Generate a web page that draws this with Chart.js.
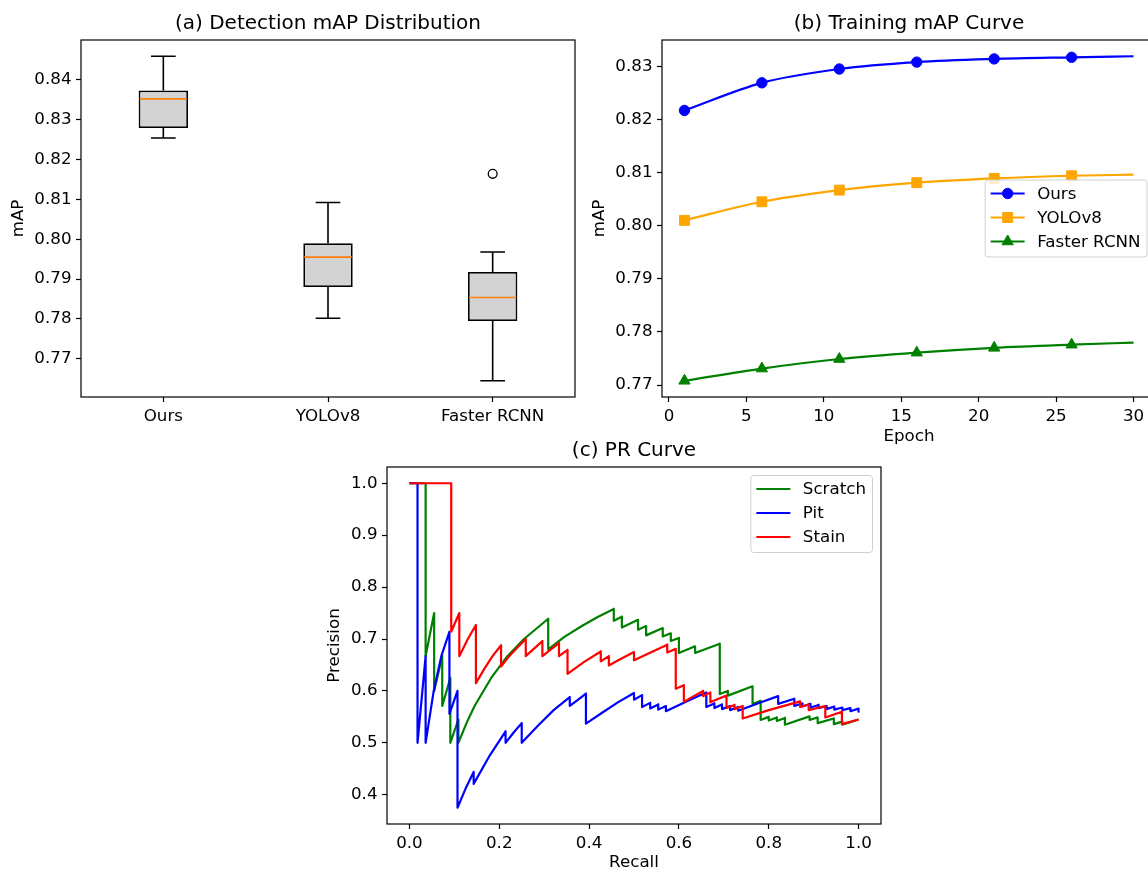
<!DOCTYPE html>
<html>
<head>
<meta charset="utf-8">
<title>Detection results</title>
<script src="https://cdn.jsdelivr.net/npm/chart.js@4.4.1/dist/chart.umd.min.js"></script>
<style>
  html, body { margin: 0; padding: 0; background: #fff; overflow: hidden; }
  body { position: relative; width: 1148px; height: 872px; }
  .panel { position: absolute; }
</style>
</head>
<body>
<div class="panel" style="left:0px; top:0px; width:600px; height:440px;"><canvas id="boxChart"></canvas></div>
<div class="panel" style="left:585px; top:0px; width:595px; height:450px;"><canvas id="trainChart"></canvas></div>
<div class="panel" style="left:320px; top:430px; width:580px; height:450px;"><canvas id="prChart"></canvas></div>
<script>
// (a) box plot summary per model
const boxLabels = ['Ours', 'YOLOv8', 'Faster RCNN'];
const boxLow = [0.8254, 0.7802, 0.7645];
const boxQ1 = [0.8279, 0.7880, 0.7795];
const boxMedian = [0.8352, 0.7955, 0.7854];
const boxQ3 = [0.8373, 0.7990, 0.7918];
const boxHigh = [0.8459, 0.8092, 0.7968];
const boxOutliers = [[], [], [0.8164]];
const boxTicks = [0.77, 0.78, 0.79, 0.80, 0.81, 0.82, 0.83, 0.84];

// (b) training curves
const epochs = [1, 6, 11, 16, 21, 26, 30];
const oursMap = [0.8217, 0.8269, 0.8295, 0.8308, 0.8314, 0.8317, 0.8319];
const yoloMap = [0.8010, 0.8045, 0.8067, 0.8081, 0.8089, 0.8094, 0.8096];
const fasterMap = [0.7708, 0.7731, 0.7749, 0.7761, 0.7770, 0.7776, 0.7780];
const epochTicks = [0, 5, 10, 15, 20, 25, 30];
const trainTicks = [0.77, 0.78, 0.79, 0.80, 0.81, 0.82, 0.83];

// (c) PR curves
const scratchRecall = [0, 0.036, 0.036, 0.055, 0.055, 0.073, 0.073, 0.091, 0.091, 0.109, 0.109, 0.127, 0.145, 0.182, 0.218, 0.255, 0.309, 0.309,
  0.345, 0.382, 0.418, 0.455, 0.455, 0.473, 0.473, 0.509, 0.509, 0.527, 0.527, 0.564, 0.564, 0.582, 0.582, 0.6, 0.6, 0.636, 0.636,
  0.691, 0.691, 0.709, 0.709, 0.764, 0.764, 0.782, 0.782, 0.8, 0.8, 0.818, 0.818, 0.836, 0.836, 0.891, 0.891, 0.909, 0.909,
  0.945, 0.945, 0.964, 0.964, 1.0];
const scratchPrecision = [1, 1, 0.667, 0.75, 0.6, 0.667, 0.571, 0.625, 0.5, 0.545, 0.5, 0.538, 0.571, 0.625, 0.667, 0.7, 0.739, 0.68,
  0.704, 0.724, 0.742, 0.758, 0.735, 0.743, 0.722, 0.737, 0.718, 0.725, 0.707, 0.721, 0.705, 0.711, 0.696, 0.702, 0.673, 0.686, 0.673,
  0.691, 0.594, 0.6, 0.591, 0.609, 0.575, 0.581, 0.544, 0.55, 0.543, 0.549, 0.542, 0.548, 0.535, 0.551, 0.544, 0.549, 0.538,
  0.547, 0.536, 0.541, 0.535, 0.545];
const pitRecall = [0, 0.018, 0.018, 0.036, 0.036, 0.054, 0.071, 0.089, 0.089, 0.107, 0.107, 0.125, 0.143, 0.143, 0.179, 0.214, 0.214,
  0.232, 0.25, 0.25, 0.286, 0.321, 0.357, 0.357, 0.375, 0.393, 0.393, 0.429, 0.464, 0.5, 0.5, 0.518, 0.518, 0.536, 0.536,
  0.554, 0.554, 0.571, 0.571, 0.625, 0.661, 0.661, 0.679, 0.679, 0.696, 0.696, 0.714, 0.714, 0.732, 0.732, 0.786, 0.821, 0.821,
  0.857, 0.857, 0.875, 0.875, 0.893, 0.893, 0.911, 0.911, 0.929, 0.929, 0.946, 0.946, 0.964, 0.964, 0.982, 0.982, 1.0, 1.0];
const pitPrecision = [1, 1, 0.5, 0.667, 0.5, 0.6, 0.667, 0.714, 0.556, 0.6, 0.375, 0.412, 0.444, 0.421, 0.476, 0.522, 0.5,
  0.52, 0.538, 0.5, 0.533, 0.563, 0.588, 0.571, 0.583, 0.595, 0.537, 0.558, 0.578, 0.596, 0.583, 0.592, 0.569, 0.577, 0.566,
  0.574, 0.564, 0.571, 0.561, 0.583, 0.597, 0.569, 0.576, 0.567, 0.574, 0.565, 0.571, 0.563, 0.569, 0.562, 0.579, 0.59, 0.575,
  0.585, 0.571, 0.576, 0.57, 0.575, 0.568, 0.573, 0.567, 0.571, 0.565, 0.57, 0.564, 0.568, 0.563, 0.567, 0.561, 0.566, 0.56];
const stainRecall = [0, 0.093, 0.093, 0.111, 0.111, 0.13, 0.148, 0.148, 0.167, 0.185, 0.204, 0.204, 0.222, 0.241, 0.259, 0.259,
  0.278, 0.296, 0.296, 0.315, 0.333, 0.333, 0.352, 0.352, 0.389, 0.426, 0.426, 0.444, 0.444, 0.463, 0.5, 0.5, 0.537, 0.574, 0.574,
  0.593, 0.593, 0.611, 0.611, 0.633, 0.654, 0.654, 0.67, 0.67, 0.688, 0.706, 0.706, 0.724, 0.724, 0.742, 0.742, 0.8, 0.87, 0.87,
  0.889, 0.889, 0.926, 0.926, 0.963, 0.963, 1.0];
const stainPrecision = [1, 1, 0.714, 0.75, 0.667, 0.7, 0.727, 0.615, 0.643, 0.667, 0.688, 0.647, 0.667, 0.684, 0.7, 0.667,
  0.682, 0.696, 0.667, 0.68, 0.692, 0.667, 0.679, 0.633, 0.656, 0.676, 0.657, 0.667, 0.649, 0.658, 0.675, 0.659, 0.674, 0.689, 0.674,
  0.681, 0.604, 0.611, 0.579, 0.59, 0.6, 0.59, 0.597, 0.578, 0.585, 0.591, 0.567, 0.573, 0.565, 0.571, 0.547, 0.563, 0.58, 0.569,
  0.574, 0.563, 0.571, 0.549, 0.56, 0.536, 0.545];
const recallTicks = [0, 0.2, 0.4, 0.6, 0.8, 1.0];
const precisionTicks = [0.4, 0.5, 0.6, 0.7, 0.8, 0.9, 1.0];

Chart.defaults.font.family = "'DejaVu Sans', sans-serif";
Chart.defaults.font.size = 16.7;
Chart.defaults.color = '#000';
Chart.defaults.animation = false;
Chart.defaults.plugins.legend.display = false;
Chart.defaults.plugins.tooltip.enabled = false;

// black box around the plot area, like matplotlib spines
const frame = {
  id: 'frame',
  afterDatasetsDraw(chart) {
    const {ctx, chartArea: a} = chart;
    ctx.save();
    ctx.strokeStyle = '#000';
    ctx.lineWidth = 1.2;
    ctx.strokeRect(a.left, a.top, a.right - a.left, a.bottom - a.top);
    ctx.restore();
  }
};

// title centred over the plot area
const panelTitle = {
  id: 'panelTitle',
  afterDraw(chart, args, opts) {
    const {ctx, chartArea: a} = chart;
    ctx.save();
    ctx.font = "20px 'DejaVu Sans'";
    ctx.fillStyle = '#000';
    ctx.textAlign = 'center';
    ctx.textBaseline = 'alphabetic';
    ctx.fillText(opts.text, (a.left + a.right) / 2, a.top - 11);
    ctx.restore();
  }
};

// legend box inside the plot area
const mplLegend = {
  id: 'mplLegend',
  afterDraw(chart, args, opts) {
    if (!opts.loc) return;
    const {ctx, chartArea: a} = chart;
    const sets = chart.data.datasets;
    ctx.save();
    ctx.font = "16.7px 'DejaVu Sans'";
    const textW = Math.max(...sets.map(d => ctx.measureText(d.label).width));
    const handle = 34, gap = 12.5, padL = 5.5, padR = 6.5, row = 24;
    const w = padL + handle + gap + textW + padR;
    const h = row * sets.length + 5;
    const left = a.right - opts.inset - w;
    const top = opts.loc === 'upper right' ? a.top + opts.inset : (a.top + a.bottom - h) / 2;
    ctx.beginPath();
    if (ctx.roundRect) ctx.roundRect(left, top, w, h, 3); else ctx.rect(left, top, w, h);
    ctx.fillStyle = 'rgba(255,255,255,0.8)';
    ctx.fill();
    ctx.lineWidth = 1;
    ctx.strokeStyle = '#d0d0d0';
    ctx.stroke();
    sets.forEach((d, i) => {
      const cy = top + 13.5 + i * row;
      const x0 = left + padL;
      ctx.strokeStyle = d.borderColor;
      ctx.lineWidth = 2.2;
      ctx.beginPath();
      ctx.moveTo(x0, cy);
      ctx.lineTo(x0 + handle, cy);
      ctx.stroke();
      if (d.legendRadius) {
        ctx.fillStyle = d.borderColor;
        ctx.lineWidth = 1;
        Chart.helpers.drawPoint(ctx, {pointStyle: d.pointStyle, rotation: 0, radius: d.legendRadius, borderWidth: 1}, x0 + handle / 2, cy);
      }
      ctx.fillStyle = '#000';
      ctx.textAlign = 'left';
      ctx.textBaseline = 'middle';
      ctx.fillText(d.label, x0 + handle + gap, cy + 1);
    });
    ctx.restore();
  }
};

function tickGrid() {
  return {display: true, drawOnChartArea: false, drawTicks: true, tickLength: 5, tickWidth: 1.2, tickColor: '#000'};
}

// whiskers, caps, medians and fliers on top of the floating bars
const boxWhiskers = {
  id: 'boxWhiskers',
  afterDatasetsDraw(chart) {
    const {ctx, scales: {x, y}} = chart;
    const bars = chart.getDatasetMeta(0).data;
    ctx.save();
    boxLabels.forEach((lab, i) => {
      const cx = x.getPixelForValue(i);
      const half = bars[i].width / 2;
      const cap = half / 2;
      const yHi = y.getPixelForValue(boxHigh[i]);
      const yLo = y.getPixelForValue(boxLow[i]);
      ctx.strokeStyle = '#000';
      ctx.lineWidth = 1.6;
      ctx.beginPath();
      ctx.moveTo(cx, y.getPixelForValue(boxQ3[i])); ctx.lineTo(cx, yHi);
      ctx.moveTo(cx, y.getPixelForValue(boxQ1[i])); ctx.lineTo(cx, yLo);
      ctx.moveTo(cx - cap, yHi); ctx.lineTo(cx + cap, yHi);
      ctx.moveTo(cx - cap, yLo); ctx.lineTo(cx + cap, yLo);
      ctx.stroke();
      const ym = y.getPixelForValue(boxMedian[i]);
      ctx.strokeStyle = '#ff7f0e';
      ctx.lineWidth = 1.6;
      ctx.beginPath();
      ctx.moveTo(cx - half + 1, ym); ctx.lineTo(cx + half - 1, ym);
      ctx.stroke();
      boxOutliers[i].forEach(v => {
        ctx.strokeStyle = '#000';
        ctx.lineWidth = 1.3;
        ctx.beginPath();
        ctx.arc(cx, y.getPixelForValue(v), 4.4, 0, 2 * Math.PI);
        ctx.stroke();
      });
    });
    ctx.restore();
  }
};

// (a) Detection mAP Distribution
new Chart(document.getElementById('boxChart'), {
  type: 'bar',
  data: {
    labels: boxLabels,
    datasets: [{
      data: boxQ1.map((q, i) => [q, boxQ3[i]]),
      backgroundColor: '#d3d3d3',
      borderColor: '#000',
      borderWidth: 1.8,
      borderSkipped: false,
      barPercentage: 0.3,
      categoryPercentage: 1.0
    }]
  },
  options: {
    responsive: true,
    maintainAspectRatio: false,
    layout: {padding: {top: 40, right: 25, left: 0, bottom: 0}},
    plugins: {panelTitle: {text: '(a) Detection mAP Distribution'}},
    scales: {
      x: {
        offset: true,
        grid: Object.assign(tickGrid(), {offset: false}),
        border: {display: false},
        ticks: {padding: 4.5, color: '#000'},
        afterFit: s => { s.height = 43; }
      },
      y: {
        min: 0.76043,
        max: 0.84997,
        grid: tickGrid(),
        border: {display: false},
        afterBuildTicks: s => { s.ticks = boxTicks.map(v => ({value: v})); },
        ticks: {padding: 4.5, color: '#000', callback: v => v.toFixed(2)},
        title: {display: true, text: 'mAP', padding: {top: 9, bottom: 0}},
        afterFit: s => { s.width = 81; }
      }
    }
  },
  plugins: [boxWhiskers, frame, panelTitle]
});

// (b) Training mAP Curve
const lastIdx = epochs.length - 1;
function trainSet(label, values, color, style, radius) {
  return {
    label: label,
    data: epochs.map((e, i) => ({x: e, y: values[i]})),
    borderColor: color,
    backgroundColor: color,
    borderWidth: 2.2,
    cubicInterpolationMode: 'monotone',
    pointStyle: style,
    pointRadius: ctx => ctx.dataIndex < lastIdx ? radius : 0,
    pointBorderWidth: 1,
    pointHoverRadius: 0,
    legendRadius: radius
  };
}
new Chart(document.getElementById('trainChart'), {
  type: 'line',
  data: {
    datasets: [
      trainSet('Ours', oursMap, '#0000ff', 'circle', 5.2),
      trainSet('YOLOv8', yoloMap, '#ffa500', 'rect', 7),
      trainSet('Faster RCNN', fasterMap, '#008000', 'triangle', 6.5)
    ]
  },
  options: {
    responsive: true,
    maintainAspectRatio: false,
    layout: {padding: {top: 40, right: 24, left: 0, bottom: 0}},
    plugins: {
      panelTitle: {text: '(b) Training mAP Curve'},
      mplLegend: {loc: 'center right', inset: 9}
    },
    scales: {
      x: {
        type: 'linear',
        min: -0.45,
        max: 31.45,
        grid: tickGrid(),
        border: {display: false},
        afterBuildTicks: s => { s.ticks = epochTicks.map(v => ({value: v})); },
        ticks: {padding: 4.5, color: '#000', callback: v => String(v)},
        title: {display: true, text: 'Epoch', padding: {top: 0, bottom: 3}},
        afterFit: s => { s.height = 53; }
      },
      y: {
        min: 0.76775,
        max: 0.83496,
        grid: tickGrid(),
        border: {display: false},
        afterBuildTicks: s => { s.ticks = trainTicks.map(v => ({value: v})); },
        ticks: {padding: 4.5, color: '#000', callback: v => v.toFixed(2)},
        title: {display: true, text: 'mAP', padding: {top: 5, bottom: 0}},
        afterFit: s => { s.width = 77; }
      }
    }
  },
  plugins: [frame, panelTitle, mplLegend]
});

// (c) PR Curve
function prSet(label, rec, prec, color, order) {
  return {
    label: label,
    data: rec.map((r, i) => ({x: r, y: prec[i]})),
    borderColor: color,
    backgroundColor: color,
    borderWidth: 2.2,
    borderJoinStyle: 'round',
    tension: 0,
    pointRadius: 0,
    pointHoverRadius: 0,
    order: order
  };
}
new Chart(document.getElementById('prChart'), {
  type: 'line',
  data: {
    datasets: [
      prSet('Scratch', scratchRecall, scratchPrecision, '#008000', 2),
      prSet('Pit', pitRecall, pitPrecision, '#0000ff', 1),
      prSet('Stain', stainRecall, stainPrecision, '#ff0000', 0)
    ]
  },
  options: {
    responsive: true,
    maintainAspectRatio: false,
    layout: {padding: {top: 37, right: 19, left: 0, bottom: 0}},
    plugins: {
      panelTitle: {text: '(c) PR Curve'},
      mplLegend: {loc: 'upper right', inset: 8.5}
    },
    scales: {
      x: {
        type: 'linear',
        min: -0.05,
        max: 1.05,
        grid: tickGrid(),
        border: {display: false},
        afterBuildTicks: s => { s.ticks = recallTicks.map(v => ({value: v})); },
        ticks: {padding: 4.5, color: '#000', callback: v => v.toFixed(1)},
        title: {display: true, text: 'Recall', padding: {top: 0, bottom: 7}},
        afterFit: s => { s.height = 56; }
      },
      y: {
        min: 0.34375,
        max: 1.03125,
        grid: tickGrid(),
        border: {display: false},
        afterBuildTicks: s => { s.ticks = precisionTicks.map(v => ({value: v})); },
        ticks: {padding: 4.5, color: '#000', callback: v => v.toFixed(1)},
        title: {display: true, text: 'Precision', padding: {top: 5, bottom: 0}},
        afterFit: s => { s.width = 67; }
      }
    }
  },
  plugins: [frame, panelTitle, mplLegend]
});
</script>
</body>
</html>
